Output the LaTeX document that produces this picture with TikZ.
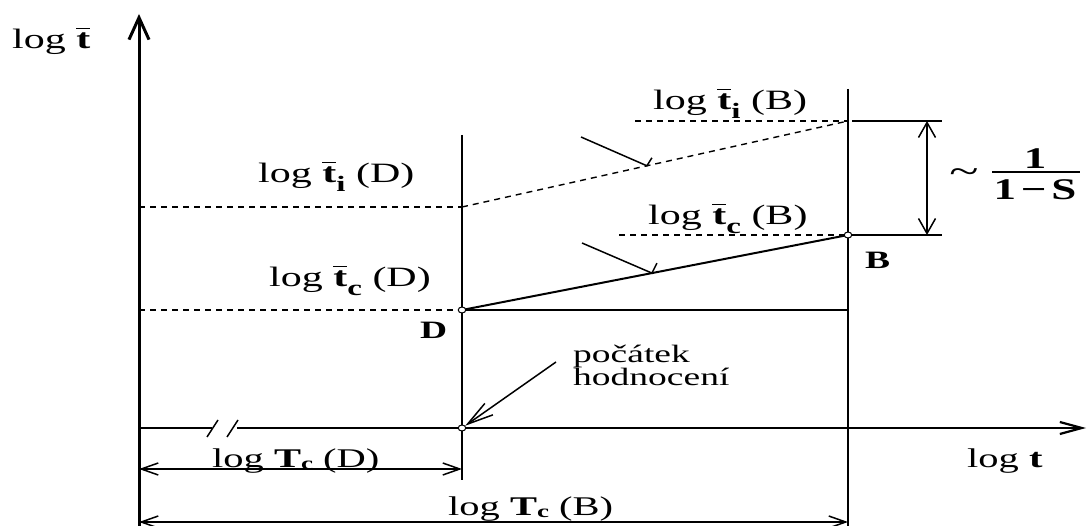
\documentclass[tikz,border=0pt]{standalone}
\usepackage{fontspec}
\setmainfont[FakeStretch=1.5]{Liberation Serif}
\usetikzlibrary{arrows.meta,shapes.geometric}

% bold t with a short bar over it
\newcommand\tb{{\bfseries\setbox0\hbox{t}\rlap{\raisebox{0.7em}{\rule{\wd0}{0.06em}}}\box0}}
% lowered bold indices
\newcommand\ix[1]{\raisebox{-0.3em}{\fontsize{22}{22}\selectfont\bfseries #1}}
\newcommand\cx[1]{\raisebox{-0.1em}{\fontsize{18}{18}\selectfont\bfseries #1}}

\begin{document}
\begin{tikzpicture}[x=1pt,y=-1pt,
  lbl/.style={font=\fontsize{28}{30}\selectfont, inner sep=0, anchor=base west},
  smlbl/.style={font=\fontsize{27}{28}\selectfont, inner sep=0, anchor=base west},
  pnt/.style={font=\fontsize{25}{25}\selectfont\bfseries, inner sep=0, anchor=base west},
  guide/.style={line width=1.4, dash pattern=on 6pt off 5pt},
  solidln/.style={line width=2},
  thinln/.style={line width=1.5},
  dim/.style={line width=1.5, {Straight Barb[length=17pt,width=12pt]}-{Straight Barb[length=17pt,width=12pt]}},
  dot/.style={ellipse, draw, fill=white, line width=1, inner sep=0, minimum width=7.5pt, minimum height=6pt}]
\useasboundingbox (0,0) rectangle (1087,526);

% key points
\coordinate (O) at (139,428);
\coordinate (Ytop) at (139,14);
\coordinate (Ybot) at (139,526);
\coordinate (Xend) at (1086,428);
\coordinate (brkL) at (212,428);
\coordinate (brkR) at (237,428);
\coordinate (D) at (462,310);
\coordinate (B) at (848,235);
\coordinate (S) at (462,428);
\coordinate (iD) at (462,207);
\coordinate (iB) at (848,121);
\coordinate (Dtop) at (462,135);
\coordinate (Dbot) at (462,480);
\coordinate (Btop) at (848,89);
\coordinate (Bbot) at (848,526);
\coordinate (DB) at (848,310);

% axes
\draw[line width=3, -{Straight Barb[length=22pt,width=20pt]}] (Ybot) -- (Ytop);
\draw[line width=2.2] (O) -- (brkL);
\draw[line width=2.2, -{Straight Barb[length=22pt,width=12pt]}] (brkR) -- (Xend);
\draw[thinln] (207,437) -- (218,420) (227,437) -- (238,420);

% verticals at D and B
\draw[thinln] (Dtop) -- (Dbot);
\draw[solidln] (Btop) -- (Bbot);

% guide lines
\coordinate (iD0) at (139,207);
\coordinate (cD0) at (139,310);
\coordinate (iB0) at (635,121);
\coordinate (cB0) at (619,235);
\draw[guide] (iD0) -- (iD);
\draw[guide] (cD0) -- (D);
\draw[guide] (iB0) -- (iB);
\draw[guide] (cB0) -- (B);
\draw[guide] (iD) -- (iB) coordinate[pos=0.479] (pi);

% solid lines from D
\draw[solidln] (D) -- (B) coordinate[pos=0.492] (pc);
\draw[solidln] (D) -- (DB);

% pointer ticks
\coordinate (pi0) at (581,137);
\coordinate (pc0) at (582,243);
\draw[thinln] (pi0) -- (pi) -- ++(5,-8);
\draw[thinln] (pc0) -- (pc) -- ++(5,-10);

% right dimension
\coordinate (hi1) at (852,121); \coordinate (hi2) at (942,121);
\coordinate (hc1) at (852,235); \coordinate (hc2) at (942,235);
\draw[solidln] (hi1) -- (hi2);
\draw[solidln] (hc1) -- (hc2);
\coordinate (vi) at (927,121); \coordinate (vc) at (927,235);
\draw[line width=1.5, {Straight Barb[length=15pt,width=17pt]}-{Straight Barb[length=15pt,width=17pt]}] (vi) -- (vc);

% bottom dimensions
\coordinate (dD1) at (139,469); \coordinate (dD2) at (462,469);
\coordinate (dB1) at (139,522); \coordinate (dB2) at (848,522);
\draw[dim] (dD1) -- (dD2);
\draw[dim] (dB1) -- (dB2);

% marked points
\node[dot] (Dp) at (D) {};
\node[dot] (Bp) at (B) {};
\node[dot] (Sp) at (S) {};

% pointer to the start of evaluation
\coordinate (pS) at (556,362);
\draw[thinln, -{Straight Barb[length=26pt,width=14pt]}] (pS) -- (Sp);

% labels
\node[lbl] (ly) at (12,49) {log \tb};
\node[lbl] (liB) at (653,110) {log \tb\ix{i} (B)};
\node[lbl] (liD) at (258,183) {log \tb\ix{i} (D)};
\node[lbl] (lcB) at (648,225) {log \tb\ix{c} (B)};
\node[lbl] (lcD) at (269,287) {log \tb\ix{c} (D)};
\node[pnt] (lD) at (420,339) {D};
\node[pnt] (lB) at (865,269) {B};
\node[smlbl] (lTD) at (212,467) {log \textbf{T}\cx{c} (D)};
\node[smlbl] (lTB) at (448,515) {log \textbf{T}\cx{c} (B)};
\node[smlbl] (lx) at (967,467) {log \textbf{t}};
\node[font=\fontsize{25}{23}\selectfont, inner sep=0, anchor=north west, align=left] (lS) at (573,345) {počátek\\hodnocení};

% ratio
\node[font=\fontsize{36}{36}\selectfont, inner sep=0] (tl) at (964,176) {\textasciitilde};
\node[font=\fontsize{30}{30}\selectfont\bfseries, inner sep=0, anchor=base] (num) at (1035,169) {1};
\node[font=\fontsize{30}{30}\selectfont\bfseries, inner sep=0, anchor=base] (den) at (1035,200) {1\hspace{0.16em}−\hspace{0.16em}S};
\coordinate (fr1) at (992,172); \coordinate (fr2) at (1080,172);
\draw[solidln] (fr1) -- (fr2);
\end{tikzpicture}
\end{document}
